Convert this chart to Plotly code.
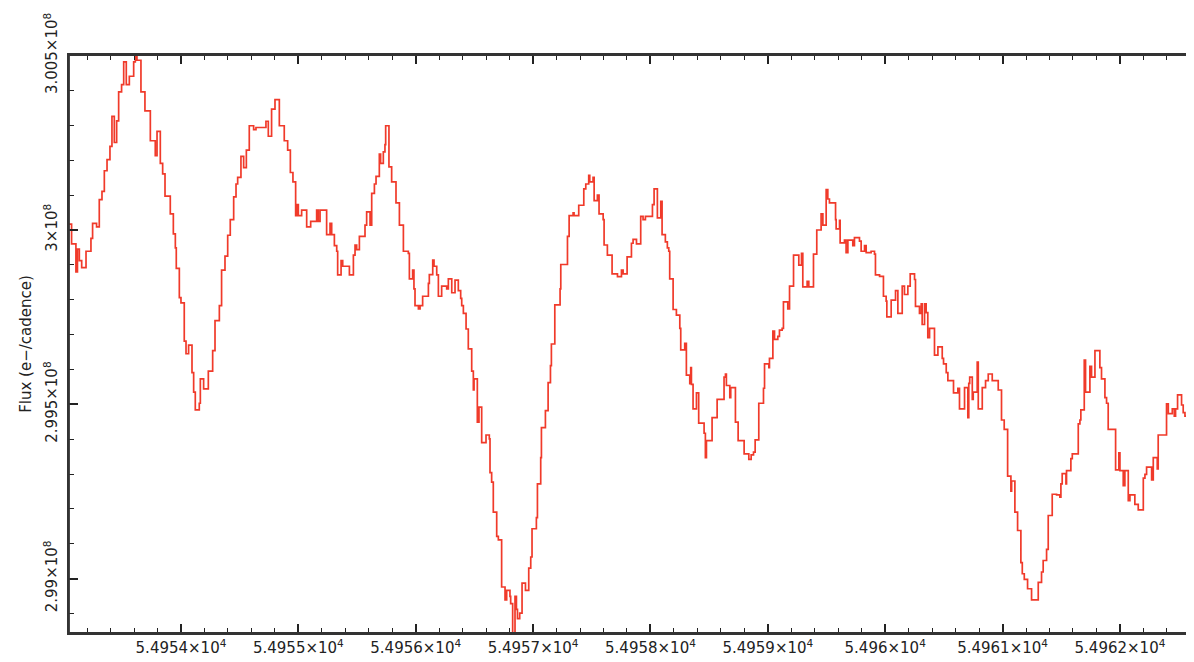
import plotly.graph_objects as go

# Time (MJD-like days) at the start of each plotted step
time = [
    54953.030, 54953.068, 54953.105, 54953.118, 54953.134, 54953.154, 54953.191, 54953.233, 54953.247, 54953.281,
    54953.304, 54953.327, 54953.347, 54953.370, 54953.395, 54953.412, 54953.432, 54953.452, 54953.469, 54953.494,
    54953.512, 54953.534, 54953.560, 54953.597, 54953.611, 54953.625, 54953.659, 54953.693, 54953.739, 54953.781,
    54953.796, 54953.824, 54953.844, 54953.864, 54953.909, 54953.935, 54953.952, 54953.960, 54953.986, 54954.000,
    54954.028, 54954.043, 54954.065, 54954.094, 54954.108, 54954.122, 54954.156, 54954.165, 54954.193, 54954.233,
    54954.270, 54954.290, 54954.327, 54954.346, 54954.375, 54954.398, 54954.420, 54954.449, 54954.469, 54954.483,
    54954.511, 54954.534, 54954.557, 54954.582, 54954.619, 54954.639, 54954.724, 54954.744, 54954.772, 54954.801,
    54954.838, 54954.880, 54954.909, 54954.932, 54954.954,
    54954.977, 54954.986, 54955.000, 54955.028, 54955.071, 54955.105, 54955.156, 54955.170, 54955.185, 54955.241,
    54955.270, 54955.284, 54955.307, 54955.327, 54955.335, 54955.364, 54955.378, 54955.435, 54955.469, 54955.483,
    54955.497, 54955.520, 54955.568, 54955.582, 54955.611, 54955.625, 54955.648, 54955.662, 54955.690, 54955.701,
    54955.724, 54955.738, 54955.744, 54955.772, 54955.795, 54955.832, 54955.861, 54955.895, 54955.937, 54955.946,
    54955.974, 54955.985, 54955.994, 54956.023, 54956.037, 54956.059, 54956.108, 54956.116, 54956.145, 54956.156,
    54956.179, 54956.193, 54956.221, 54956.264, 54956.278, 54956.307, 54956.335, 54956.363, 54956.383, 54956.392,
    54956.406, 54956.429, 54956.448, 54956.477, 54956.491, 54956.497, 54956.525, 54956.539, 54956.562, 54956.599,
    54956.627, 54956.633, 54956.647, 54956.661, 54956.690, 54956.704, 54956.732, 54956.761, 54956.775, 54956.803,
    54956.809, 54956.826, 54956.846, 54956.858, 54956.867, 54956.886,
    54956.906, 54956.935, 54956.963, 54956.980, 54956.991, 54957.028, 54957.037, 54957.065, 54957.071, 54957.105,
    54957.128, 54957.148, 54957.156, 54957.185, 54957.230, 54957.236, 54957.293, 54957.307, 54957.341, 54957.349,
    54957.389, 54957.432, 54957.449, 54957.474, 54957.483, 54957.511, 54957.520, 54957.548, 54957.562, 54957.597,
    54957.605, 54957.633, 54957.673, 54957.719, 54957.753, 54957.767, 54957.801, 54957.838, 54957.852, 54957.881,
    54957.917, 54957.937, 54957.957, 54958.017, 54958.031, 54958.059, 54958.088, 54958.099, 54958.127, 54958.144,
    54958.156, 54958.164, 54958.193, 54958.221, 54958.250, 54958.258, 54958.292, 54958.306, 54958.335, 54958.343,
    54958.349, 54958.363, 54958.392, 54958.411, 54958.457, 54958.468, 54958.477, 54958.525, 54958.568, 54958.627,
    54958.639, 54958.647, 54958.676, 54958.684, 54958.724, 54958.747, 54958.798,
    54958.838, 54958.858, 54958.878, 54958.892, 54958.923, 54958.963, 54958.972, 54959.009, 54959.014, 54959.043,
    54959.057, 54959.085, 54959.099, 54959.122, 54959.133, 54959.170, 54959.185, 54959.219, 54959.264, 54959.287,
    54959.298, 54959.335, 54959.349, 54959.389, 54959.417, 54959.454, 54959.469, 54959.497, 54959.511, 54959.525,
    54959.577, 54959.582, 54959.611, 54959.616, 54959.653, 54959.667, 54959.682, 54959.724, 54959.738, 54959.781,
    54959.795, 54959.824, 54959.838, 54959.880, 54959.909, 54959.917, 54959.952, 54959.985, 54960.008, 54960.014,
    54960.051, 54960.088, 54960.108, 54960.145, 54960.164, 54960.193, 54960.213, 54960.250, 54960.258, 54960.292,
    54960.307, 54960.315, 54960.335, 54960.349, 54960.363, 54960.378, 54960.420, 54960.449, 54960.486, 54960.497,
    54960.520, 54960.534, 54960.582, 54960.619, 54960.633, 54960.676, 54960.704,
    54960.712, 54960.720, 54960.742, 54960.750, 54960.784, 54960.793, 54960.827, 54960.855, 54960.878, 54960.912,
    54960.963, 54960.991, 54961.014, 54961.043, 54961.071, 54961.077, 54961.105, 54961.128, 54961.156, 54961.168,
    54961.185, 54961.213, 54961.247, 54961.304, 54961.332, 54961.346, 54961.375, 54961.389, 54961.423, 54961.460,
    54961.488, 54961.497, 54961.508, 54961.540, 54961.545, 54961.582, 54961.594, 54961.645, 54961.659, 54961.667,
    54961.696, 54961.707, 54961.744, 54961.758, 54961.787, 54961.829, 54961.843, 54961.872, 54961.886, 54961.900,
    54961.963, 54961.991, 54962.000, 54962.028, 54962.042, 54962.071, 54962.085, 54962.127, 54962.156, 54962.199,
    54962.213, 54962.227, 54962.270, 54962.284, 54962.318, 54962.326, 54962.397, 54962.412, 54962.446, 54962.463,
    54962.474, 54962.491, 54962.525, 54962.539, 54962.554, 54962.582, 54962.605, 54962.624, 54962.640,
]

# Flux (e-/cadence)
flux = [
    3.00017e8, 2.99960e8, 2.99880e8, 2.99945e8, 2.99912e8, 2.99892e8, 2.99939e8, 2.99976e8, 3.00019e8, 3.00009e8,
    3.00087e8, 3.00111e8, 3.00170e8, 3.00202e8, 3.00240e8, 3.00326e8, 3.00251e8, 3.00313e8, 3.00396e8, 3.00417e8,
    3.00482e8, 3.00417e8, 3.00441e8, 3.00482e8, 3.00501e8, 3.00487e8, 3.00396e8, 3.00342e8, 3.00256e8, 3.00213e8,
    3.00283e8, 3.00191e8, 3.00161e8, 3.00097e8, 3.00046e8, 2.99989e8, 2.99949e8, 2.99890e8, 2.99806e8, 2.99791e8,
    2.99681e8, 2.99645e8, 2.99670e8, 2.99591e8, 2.99535e8, 2.99484e8, 2.99503e8, 2.99573e8, 2.99544e8, 2.99595e8,
    2.99654e8, 2.99740e8, 2.99783e8, 2.99885e8, 2.99925e8, 2.99985e8, 3.00030e8, 3.00095e8, 3.00132e8, 3.00151e8,
    3.00211e8, 3.00179e8, 3.00229e8, 3.00299e8, 3.00288e8, 3.00294e8, 3.00312e8, 3.00269e8, 3.00347e8, 3.00374e8,
    3.00299e8, 3.00256e8, 3.00229e8, 3.00165e8, 3.00138e8,
    3.00041e8, 3.00073e8, 3.00041e8, 3.00057e8, 3.00009e8, 3.00025e8, 3.00057e8, 3.00025e8, 3.00057e8, 2.99987e8,
    3.00019e8, 2.99987e8, 2.99955e8, 2.99939e8, 2.99871e8, 2.99912e8, 2.99896e8, 2.99871e8, 2.99928e8, 2.99957e8,
    2.99944e8, 2.99982e8, 3.00014e8, 3.00052e8, 3.00014e8, 3.00105e8, 3.00132e8, 3.00154e8, 3.00218e8, 3.00191e8,
    3.00224e8, 3.00245e8, 3.00299e8, 3.00181e8, 3.00138e8, 3.00078e8, 3.00014e8, 2.99939e8, 2.99933e8, 2.99860e8,
    2.99885e8, 2.99831e8, 2.99783e8, 2.99774e8, 2.99783e8, 2.99810e8, 2.99847e8, 2.99872e8, 2.99914e8, 2.99896e8,
    2.99871e8, 2.99810e8, 2.99839e8, 2.99831e8, 2.99860e8, 2.99820e8, 2.99856e8, 2.99826e8, 2.99804e8, 2.99783e8,
    2.99761e8, 2.99716e8, 2.99659e8, 2.99595e8, 2.99541e8, 2.99573e8, 2.99449e8, 2.99492e8, 2.99390e8, 2.99412e8,
    2.99401e8, 2.99304e8, 2.99277e8, 2.99191e8, 2.99121e8, 2.99111e8, 2.98976e8, 2.98939e8, 2.98966e8, 2.98949e8,
    2.98928e8, 2.98830e8, 2.98949e8, 2.98912e8, 2.98885e8, 2.98901e8,
    2.98987e8, 2.98966e8, 2.99030e8, 2.99062e8, 2.99143e8, 2.99175e8, 2.99272e8, 2.99347e8, 2.99433e8, 2.99482e8,
    2.99562e8, 2.99611e8, 2.99673e8, 2.99785e8, 2.99831e8, 2.99901e8, 2.99982e8, 3.00041e8, 3.00049e8, 3.00041e8,
    3.00071e8, 3.00118e8, 3.00132e8, 3.00157e8, 3.00138e8, 3.00151e8, 3.00084e8, 3.00100e8, 3.00046e8, 3.00030e8,
    2.99957e8, 2.99928e8, 2.99874e8, 2.99866e8, 2.99885e8, 2.99874e8, 2.99923e8, 2.99962e8, 2.99973e8, 2.99960e8,
    3.00039e8, 3.00030e8, 3.00039e8, 3.00073e8, 3.00118e8, 3.00035e8, 3.00082e8, 2.99987e8, 2.99966e8, 2.99949e8,
    2.99939e8, 2.99860e8, 2.99772e8, 2.99756e8, 2.99718e8, 2.99656e8, 2.99675e8, 2.99584e8, 2.99559e8, 2.99605e8,
    2.99557e8, 2.99487e8, 2.99533e8, 2.99446e8, 2.99417e8, 2.99347e8, 2.99396e8, 2.99462e8, 2.99514e8, 2.99578e8,
    2.99587e8, 2.99554e8, 2.99519e8, 2.99548e8, 2.99449e8, 2.99396e8, 2.99358e8,
    2.99342e8, 2.99355e8, 2.99363e8, 2.99398e8, 2.99503e8, 2.99546e8, 2.99616e8, 2.99605e8, 2.99632e8, 2.99710e8,
    2.99686e8, 2.99695e8, 2.99713e8, 2.99718e8, 2.99794e8, 2.99774e8, 2.99839e8, 2.99928e8, 2.99899e8, 2.99933e8,
    2.99837e8, 2.99853e8, 2.99837e8, 2.99931e8, 3.00000e8, 3.00046e8, 3.00014e8, 3.00116e8, 3.00089e8, 3.00078e8,
    3.00030e8, 3.00003e8, 3.00028e8, 2.99963e8, 2.99971e8, 2.99935e8, 2.99971e8, 2.99955e8, 2.99978e8, 2.99968e8,
    2.99939e8, 2.99955e8, 2.99935e8, 2.99939e8, 2.99931e8, 2.99871e8, 2.99867e8, 2.99810e8, 2.99796e8, 2.99751e8,
    2.99799e8, 2.99826e8, 2.99761e8, 2.99839e8, 2.99815e8, 2.99839e8, 2.99874e8, 2.99858e8, 2.99781e8, 2.99761e8,
    2.99788e8, 2.99729e8, 2.99788e8, 2.99763e8, 2.99691e8, 2.99718e8, 2.99641e8, 2.99665e8, 2.99632e8, 2.99616e8,
    2.99591e8, 2.99568e8, 2.99533e8, 2.99546e8, 2.99487e8, 2.99548e8, 2.99462e8,
    2.99560e8, 2.99578e8, 2.99514e8, 2.99535e8, 2.99621e8, 2.99487e8, 2.99548e8, 2.99568e8, 2.99587e8, 2.99568e8,
    2.99541e8, 2.99455e8, 2.99428e8, 2.99294e8, 2.99251e8, 2.99280e8, 2.99191e8, 2.99138e8, 2.99046e8, 2.99014e8,
    2.98998e8, 2.98971e8, 2.98939e8, 2.98989e8, 2.99019e8, 2.99052e8, 2.99084e8, 2.99181e8, 2.99242e8, 2.99240e8,
    2.99234e8, 2.99272e8, 2.99301e8, 2.99272e8, 2.99310e8, 2.99344e8, 2.99358e8, 2.99444e8, 2.99455e8, 2.99484e8,
    2.99627e8, 2.99535e8, 2.99609e8, 2.99578e8, 2.99654e8, 2.99605e8, 2.99573e8, 2.99519e8, 2.99503e8, 2.99428e8,
    2.99312e8, 2.99361e8, 2.99310e8, 2.99267e8, 2.99310e8, 2.99224e8, 2.99240e8, 2.99213e8, 2.99197e8, 2.99288e8,
    2.99299e8, 2.99320e8, 2.99283e8, 2.99347e8, 2.99315e8, 2.99412e8, 2.99501e8, 2.99473e8, 2.99487e8, 2.99466e8,
    2.99487e8, 2.99527e8, 2.99498e8, 2.99476e8, 2.99466e8, 2.99455e8, 2.99514e8, 2.99412e8, 2.99412e8,
]

x_tick_vals = [54954, 54955, 54956, 54957, 54958, 54959, 54960, 54961, 54962]
x_tick_text = ["5.4954×10<sup>4</sup>", "5.4955×10<sup>4</sup>", "5.4956×10<sup>4</sup>",
               "5.4957×10<sup>4</sup>", "5.4958×10<sup>4</sup>", "5.4959×10<sup>4</sup>",
               "5.496×10<sup>4</sup>", "5.4961×10<sup>4</sup>", "5.4962×10<sup>4</sup>"]
y_tick_vals = [2.99e8, 2.995e8, 3.0e8, 3.005e8]
y_tick_text = ["2.99×10<sup>8</sup>", "2.995×10<sup>8</sup>", "3×10<sup>8</sup>", "3.005×10<sup>8</sup>"]
y_title = "Flux (e−/cadence)"

fig = go.Figure()
fig.add_trace(go.Scatter(
    x=time, y=flux, mode="lines", line_shape="hv",
    line=dict(color="rgb(240,58,42)", width=1.7),
    showlegend=False, hoverinfo="x+y",
))

# The page body keeps its default 8px offset, so margins are trimmed/extended
# to place the plot frame where the reference has it.
axis_font = dict(family="DejaVu Sans", size=15, color="#222")
frame = dict(color="#333", width=1.8)
fig.update_layout(
    width=1194, height=662,
    margin=dict(l=61, r=8, t=47, b=37),
    paper_bgcolor="white", plot_bgcolor="white",
    font=axis_font,
    showlegend=False,
    shapes=[
        dict(type="line", xref="paper", yref="paper", x0=0, x1=0, y0=0, y1=1, line=frame, layer="above"),
        dict(type="line", xref="paper", yref="paper", x0=0, x1=1, y0=0, y1=0, line=frame, layer="above"),
        dict(type="line", xref="paper", yref="paper", x0=0, x1=1, y0=1, y1=1, line=frame, layer="above"),
    ],
)
fig.update_xaxes(
    range=[54953.046, 54962.631], automargin=False,
    tickmode="array", tickvals=x_tick_vals, ticktext=x_tick_text,
    ticks="inside", ticklen=9, tickwidth=1.6, tickcolor="#222",
    minor=dict(ticks="inside", ticklen=5, tickwidth=1.4, tickcolor="#222", tick0=54954, dtick=0.2),
    showline=True, linecolor="#333", linewidth=1.6, mirror="ticks",
    showgrid=False, zeroline=False, tickfont=axis_font,
    ticklabelstandoff=0, layer="above traces",
)
fig.update_yaxes(
    range=[2.98844e8, 3.00502e8], automargin=False,
    tickmode="array", tickvals=y_tick_vals, ticktext=y_tick_text,
    tickangle=-90,
    ticks="inside", ticklen=9, tickwidth=1.6, tickcolor="#222",
    minor=dict(ticks="inside", ticklen=5, tickwidth=1.4, tickcolor="#222", tick0=3.0e8, dtick=1e5),
    showline=True, linecolor="#333", linewidth=1.6,
    showgrid=False, zeroline=False, tickfont=axis_font,
    title=dict(text=y_title, font=dict(family="DejaVu Sans", size=15, color="#222"), standoff=6),
    ticklabelstandoff=4, layer="above traces",
)

fig.write_html("out.html")
